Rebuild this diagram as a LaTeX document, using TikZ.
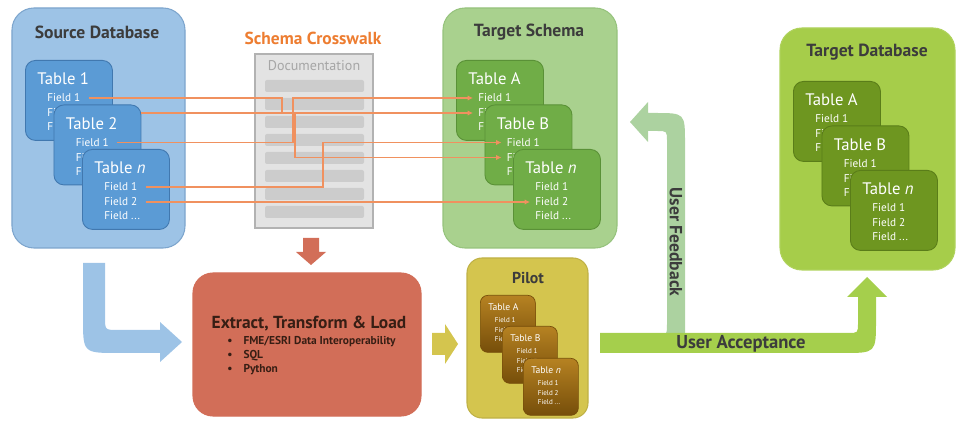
\documentclass[tikz,border=0pt]{standalone}
\usepackage{fontspec}
\setmainfont{PT Sans}
\usetikzlibrary{arrows.meta,positioning,calc}
\definecolor{kekhat}{RGB}{157,195,230}
\definecolor{kekkeret}{RGB}{125,165,205}
\definecolor{kektabla}{RGB}{91,155,213}
\definecolor{kektkeret}{RGB}{65,120,175}
\definecolor{zoldhat}{RGB}{169,209,142}
\definecolor{zoldkeret}{RGB}{150,195,125}
\definecolor{zoldtabla}{RGB}{112,173,71}
\definecolor{zoldtkeret}{RGB}{90,145,55}
\definecolor{limehat}{RGB}{166,205,74}
\definecolor{limetabla}{RGB}{110,150,32}
\definecolor{limetkeret}{RGB}{90,125,25}
\definecolor{sarga}{RGB}{212,197,78}
\definecolor{barnaf}{RGB}{182,130,34}
\definecolor{barnaa}{RGB}{118,78,10}
\definecolor{piros}{RGB}{210,110,88}
\definecolor{narancs}{RGB}{237,125,49}
\definecolor{vonal}{RGB}{240,145,95}
\definecolor{szurke}{RGB}{227,227,227}
\definecolor{sotet}{RGB}{60,60,60}
\definecolor{etlsz}{RGB}{55,30,20}
\definecolor{elfogad}{RGB}{165,207,76}
\definecolor{visszaj}{RGB}{172,210,160}
\tikzset{
  doboz/.style={draw,rounded corners=4.4mm,line width=0.6pt,inner sep=0pt},
  tabla/.style={draw,rounded corners=2mm,line width=0.5pt,minimum width=17.4mm,minimum height=16mm,inner sep=0pt},
  ptabla/.style={draw=barnaa,rounded corners=1.5mm,top color=barnaf,bottom color=barnaa,
                 minimum width=11mm,minimum height=11.4mm,inner sep=0pt},
  fejlec/.style={font=\bfseries\fontsize{10}{12}\selectfont,text=sotet},
  tcim/.style={anchor=west,text=white,inner sep=0pt,font=\fontsize{9.5}{11}\selectfont},
  mezo/.style={anchor=west,text=white,inner sep=0pt,font=\fontsize{6.4}{7}\selectfont},
  kapcs/.style={draw=vonal,line width=0.6pt,-{Latex[length=3pt,width=3pt]},shorten <=1.6mm,shorten >=1mm},
  sav/.style={fill=black!20,rounded corners=0.4mm,minimum width=19.8mm,minimum height=2.4mm,inner sep=0pt},
}
% nev, bal felso sarok, cim, stilus, arany
\newcommand{\tabla}[5]{%
  \node[#4,anchor=north west] (#1) at #2 {};
  \node[tcim] (#1-c) at ($(#1.north west)+(12*#5,19*#5)$) {#3};
  \node[mezo] (#1-f1) at ($(#1.north west)+(22*#5,38*#5)$) {Field 1};
  \node[mezo] (#1-f2) at ($(#1.north west)+(22*#5,53*#5)$) {Field 2};
  \node[mezo] (#1-f3) at ($(#1.north west)+(22*#5,67*#5)$) {Field ...};
}
\begin{document}
\begin{tikzpicture}[x=0.2mm,y=-0.2mm]
  \useasboundingbox (0,0) rectangle (958,421);
  % 1. forras adatbazis
  \node[doboz,fill=kekhat,draw=kekkeret,minimum width=34.6mm,minimum height=48mm] (forras) at (98.5,128) {};
  \node[fejlec] (forras-c) at (97,32) {Source Database};
  \tabla{s1}{(25,60)}{Table 1}{tabla,fill=kektabla,draw=kektkeret}{1}
  \tabla{s2}{(53.5,104.5)}{Table 2}{tabla,fill=kektabla,draw=kektkeret}{1}
  \tabla{sn}{(82,149)}{Table \textit{n}}{tabla,fill=kektabla,draw=kektkeret}{1}
  % 2. cel sema
  \node[doboz,fill=zoldhat,draw=zoldkeret,minimum width=34.8mm,minimum height=48mm] (sema) at (530,128) {};
  \node[fejlec] (sema-c) at (529,32) {Target Schema};
  \tabla{tA}{(456,60)}{Table A}{tabla,fill=zoldtabla,draw=zoldtkeret}{1}
  \tabla{tB}{(484.5,104.5)}{Table B}{tabla,fill=zoldtabla,draw=zoldtkeret}{1}
  \tabla{tn}{(513,149)}{Table \textit{n}}{tabla,fill=zoldtabla,draw=zoldtkeret}{1}
  % 3. cel adatbazis
  \node[doboz,fill=limehat,draw=limehat!90!white,minimum width=35mm,minimum height=48.4mm] (celdb) at (867.5,149) {};
  \node[fejlec] (celdb-c) at (867,52) {Target Database};
  \tabla{dA}{(793,81)}{Table A}{tabla,fill=limetabla,draw=limetkeret}{1}
  \tabla{dB}{(821.5,125.5)}{Table B}{tabla,fill=limetabla,draw=limetkeret}{1}
  \tabla{dn}{(850,170)}{Table \textit{n}}{tabla,fill=limetabla,draw=limetkeret}{1}
  % 4. crosswalk
  \node[font=\bfseries\fontsize{9.9}{11}\selectfont,text=narancs] (cw) at (313,38) {Schema Crosswalk};
  \node[draw=black!30,fill=szurke,line width=0.6pt,minimum width=23.6mm,minimum height=34.8mm,inner sep=0pt] (doc) at (314,141) {};
  \node[text=black!35,font=\fontsize{8}{9}\selectfont] (doc-c) at (314,66) {Documentation};
  \foreach \i in {0,...,7} \node[sav] (sav\i) at (314.5,86+18*\i) {};
  % 5. mezo kapcsolatok
  \coordinate (k1) at (282,113);
  \coordinate (k2) at (295,0);
  \coordinate (k3) at (293,0);
  \coordinate (k4) at (323,0);
  \draw[kapcs] (s1-f1.east) -| (k1) -| (k2 |- tB-f2) -- (tB-f2.west);
  \draw[kapcs,shorten <=0pt] (s2.east |- s1-f2) -- (tA-f2.west);
  \draw[kapcs] (s2-f1.east) -| (k3 |- tA-f1) -- (tA-f1.west);
  \draw[kapcs] (sn-f1.east) -| (k4 |- tB-f1) -- (tB-f1.west);
  \draw[kapcs] (sn-f2.east) -- (tn-f2.west);
  % 6. ETL
  \node[doboz,fill=piros,draw=piros,rounded corners=4mm,minimum width=45.6mm,minimum height=28.6mm] (etl) at (307,344.5) {};
  \node[font=\bfseries\fontsize{9.9}{11}\selectfont,text=etlsz] (etl-c) at (309,324) {Extract, Transform \& Load};
  \node[anchor=north west,font=\bfseries\fontsize{6.5}{8}\selectfont,text=etlsz,inner sep=0pt] (etl-l) at (227,334)
    {\begin{tabular}{@{}l@{\hspace{2.2mm}}l@{}}\textbullet & FME/ESRI Data Interoperability\\
     \textbullet & SQL\\ \textbullet & Python\end{tabular}};
  % 7. pilot
  \node[doboz,fill=sarga,draw=sarga!90!black,rounded corners=3mm,minimum width=24.2mm,minimum height=32mm] (pilot) at (527.5,338) {};
  \node[fejlec,font=\bfseries\fontsize{9}{10}\selectfont] (pilot-c) at (528,278) {Pilot};
  \begin{scope}[tcim/.append style={font=\fontsize{5.5}{6}\selectfont},
                mezo/.append style={font=\fontsize{4}{5}\selectfont}]
    \tabla{pA}{(480,295)}{Table A}{ptabla}{0.66}
    \tabla{pB}{(502,326)}{Table B}{ptabla}{0.66}
    \tabla{pn}{(523,358)}{Table \textit{n}}{ptabla}{0.66}
  \end{scope}
  % 8. vastag nyilak
  \fill[kekhat] (83,263) -- (105,263) -- (105,317) .. controls (105,330) .. (118,330) -- (160,330) -- (160,322)
    -- (182,342) -- (160,362) -- (160,353) -- (118,353) .. controls (83,353) .. (83,318) -- cycle;
  \fill[piros] (303,238) -- (319,238) -- (319,252) -- (326,252) -- (311,265) -- (296,252) -- (303,252) -- cycle;
  \fill[sarga] (432,333) -- (445,333) -- (445,324) -- (458,344) -- (445,364) -- (445,355) -- (432,355) -- cycle;
  \fill[visszaj] (657,335) .. controls (667,335) .. (667,323) -- (667,141) .. controls (667,131) .. (657,131)
    -- (648,131) -- (648,142) -- (630,122) -- (648,102) -- (648,113) -- (655,113) .. controls (685,113) .. (685,143)
    -- (685,335) -- cycle;
  \fill[elfogad] (600,333) -- (848,333) .. controls (858,333) .. (858,323) -- (858,297) -- (847,297) -- (867,277)
    -- (887,297) -- (876,297) -- (876,320) .. controls (876,353) .. (843,353) -- (600,353) -- cycle;
  \node[font=\bfseries\fontsize{10.6}{12}\selectfont,text=sotet] (elf) at (741,344) {User Acceptance};
  \node[rotate=-90,font=\bfseries\fontsize{10}{11}\selectfont,text=sotet] (vissza) at (676,242) {User Feedback};
\end{tikzpicture}
\end{document}
